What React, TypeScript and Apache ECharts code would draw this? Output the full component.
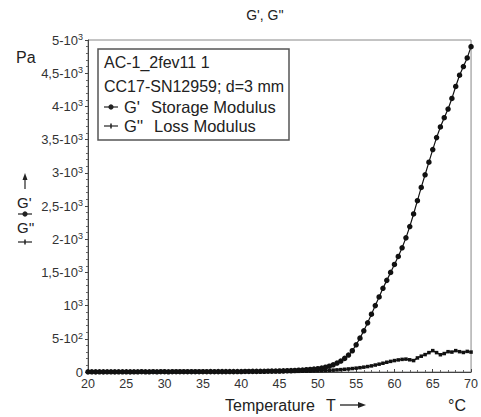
import React, { useEffect, useRef } from "react";
import * as echarts from "echarts";

const temps = [
  20, 20.5, 21, 21.5, 22, 22.5, 23, 23.5, 24, 24.5, 25, 25.5, 26, 26.5, 27, 27.5, 28, 28.5, 29, 29.5,
  30, 30.5, 31, 31.5, 32, 32.5, 33, 33.5, 34, 34.5, 35, 35.5, 36, 36.5, 37, 37.5, 38, 38.5, 39, 39.5,
  40, 40.5, 41, 41.5, 42, 42.5, 43, 43.5, 44, 44.5, 45, 45.5, 46, 46.5, 47, 47.5, 48, 48.5, 49, 49.5,
  50, 50.5, 51, 51.5, 52, 52.5, 53, 53.5, 54, 54.5, 55, 55.5, 56, 56.5, 57, 57.5, 58, 58.5, 59, 59.5,
  60, 60.5, 61, 61.5, 62, 62.5, 63, 63.5, 64, 64.5, 65, 65.5, 66, 66.5, 67, 67.5, 68, 68.5, 69, 69.5,
  70,
];

const storageModulus = [
  2, 3, 2, 3, 2, 3, 3, 2, 3, 3, 3, 2, 3, 3, 4, 3, 3, 4, 3, 4,
  4, 3, 4, 4, 4, 5, 4, 5, 4, 5, 5, 5, 6, 5, 6, 6, 6, 7, 6, 7,
  7, 8, 8, 9, 9, 10, 11, 12, 13, 14, 15, 17, 19, 21, 24, 27, 30, 34, 38, 43,
  50, 60, 72, 88, 108, 135, 165, 205, 255, 320, 410, 510, 620, 740, 870, 1000, 1130, 1260, 1380, 1500,
  1620, 1740, 1870, 2020, 2190, 2380, 2580, 2780, 2970, 3160, 3350, 3530, 3690, 3830, 3960, 4120, 4300, 4470, 4600, 4730,
  4900,
];

const lossModulus = [
  1, 2, 1, 2, 2, 1, 2, 2, 1, 2, 2, 2, 1, 2, 2, 2, 2, 1, 2, 2,
  2, 2, 3, 2, 2, 3, 2, 3, 3, 2, 3, 3, 3, 3, 3, 4, 3, 4, 4, 4,
  4, 4, 5, 4, 5, 5, 5, 6, 6, 6, 7, 7, 8, 8, 9, 10, 11, 12, 13, 15,
  17, 19, 22, 25, 28, 32, 36, 41, 46, 52, 58, 65, 73, 82, 92, 105, 118, 132, 147, 160,
  172, 182, 190, 194, 184, 172, 212, 238, 262, 292, 322, 292, 260, 278, 306, 300, 322, 306, 294, 310,
  300,
];

const yTickValues = [0, 500, 1000, 1500, 2000, 2500, 3000, 3500, 4000, 4500, 5000];
const yTickMantissa = ["0", "5-10", "10", "1,5-10", "2-10", "2,5-10", "3-10", "3,5-10", "4-10", "4,5-10", "5-10"];
const yTickExponent = ["", "2", "3", "3", "3", "3", "3", "3", "3", "3", "3"];

const FONT = "'Liberation Sans', Arial, sans-serif";
const TXT = "#222";

export default function App() {
  const ref = useRef<HTMLDivElement>(null);
  useEffect(() => {
    if (!ref.current) return;
    const chart = echarts.init(ref.current, null, { renderer: "svg" });
    const gData = temps.map((t, i) => [t, storageModulus[i]]);
    const lData = temps.map((t, i) => [t, lossModulus[i]]);
    const markerDot = (x: number, y: number) => [
      { type: "line", shape: { x1: x - 7, y1: y, x2: x + 7, y2: y }, style: { stroke: TXT, lineWidth: 1.2 } },
      { type: "circle", shape: { cx: x, cy: y, r: 2.6 }, style: { fill: TXT } },
    ];
    const markerPlus = (x: number, y: number) => [
      { type: "line", shape: { x1: x - 7, y1: y, x2: x + 7, y2: y }, style: { stroke: TXT, lineWidth: 1.2 } },
      { type: "line", shape: { x1: x, y1: y - 2.5, x2: x, y2: y + 2.5 }, style: { stroke: TXT, lineWidth: 1.5 } },
    ];
    const text = (x: number, y: number, s: string, size: number, align = "left") => ({
      type: "text",
      x,
      y,
      style: { text: s, fontSize: size, fontFamily: FONT, fill: TXT, align, verticalAlign: "middle" },
    });
    chart.setOption({
      animation: false,
      grid: { left: 88, right: 9, top: 40, bottom: 45, show: true, borderColor: "#888", borderWidth: 1 },
      xAxis: {
        type: "value",
        min: 20,
        max: 70,
        interval: 5,
        axisLine: { lineStyle: { color: "#444" } },
        axisTick: { inside: true, length: 3, lineStyle: { color: "#444" } },
        minorTick: { show: true, splitNumber: 5, length: 2, lineStyle: { color: "#666" } },
        splitLine: { show: false },
        axisLabel: { color: "#333", fontSize: 12.5, fontFamily: FONT, margin: 5 },
      },
      yAxis: {
        type: "value",
        min: 0,
        max: 5000,
        interval: 500,
        axisLine: { show: true, lineStyle: { color: "#444" } },
        axisTick: { show: true, length: 3, lineStyle: { color: "#444" } },
        minorTick: { show: true, splitNumber: 5, length: 2, lineStyle: { color: "#666" } },
        splitLine: { show: false },
        axisLabel: {
          margin: 5,
          formatter: (v: number) => {
            const i = yTickValues.indexOf(v);
            if (i < 0) return "";
            const m = yTickMantissa[i];
            const e = yTickExponent[i];
            return e ? `{b|${m}}{s|${e}}` : `{b|${m}}`;
          },
          rich: {
            b: { fontSize: 13, fontFamily: FONT, color: "#333", lineHeight: 15 },
            s: { fontSize: 9, fontFamily: FONT, color: "#333", lineHeight: 9, verticalAlign: "top" },
          },
        },
      },
      series: [
        {
          name: "G'' Loss Modulus",
          type: "line",
          data: lData,
          symbol: "rect",
          symbolSize: 3.5,
          itemStyle: { color: "#111" },
          lineStyle: { color: "#111", width: 1.4 },
          z: 2,
        },
        {
          name: "G' Storage Modulus",
          type: "line",
          data: gData,
          symbol: "circle",
          symbolSize: 5.5,
          itemStyle: { color: "#111" },
          lineStyle: { color: "#111", width: 1.2 },
          z: 3,
        },
      ],
      graphic: [
        text(265, 15, "G', G''", 14, "center"),
        text(16, 57, "Pa", 16),
        text(225, 405, "Temperature", 16),
        text(326, 405, "T", 16),
        { type: "line", shape: { x1: 340, y1: 405, x2: 360, y2: 405 }, style: { stroke: TXT, lineWidth: 1.3 } },
        { type: "polygon", shape: { points: [[366, 405], [358, 402], [358, 408]] }, style: { fill: TXT } },
        text(448, 405, "°C", 16),
        // left vertical label
        { type: "line", shape: { x1: 25, y1: 189, x2: 25, y2: 178 }, style: { stroke: TXT, lineWidth: 1.2 } },
        { type: "polygon", shape: { points: [[25, 173], [22.5, 180], [27.5, 180]] }, style: { fill: TXT } },
        text(17, 202, "G'", 15),
        ...markerDot(25, 214),
        text(17, 227, "G''", 15),
        ...markerPlus(25, 242),
        // legend box
        { type: "rect", shape: { x: 98, y: 49, width: 191, height: 91 }, style: { fill: "#fff", stroke: "#555", lineWidth: 1.5 }, z: 10 },
        { ...text(104, 62, "AC-1_2fev11 1", 16), z: 11 },
        { ...text(104, 86, "CC17-SN12959; d=3 mm", 16), z: 11 },
        ...markerDot(111, 107).map((e) => ({ ...e, z: 11 })),
        { ...text(124, 107, "G'", 16.5), z: 11 },
        { ...text(151, 107, "Storage Modulus", 16.5), z: 11 },
        ...markerPlus(111, 126).map((e) => ({ ...e, z: 11 })),
        { ...text(124, 126, "G''", 16.5), z: 11 },
        { ...text(154, 126, "Loss Modulus", 16.5), z: 11 },
      ],
    });
    return () => chart.dispose();
  }, []);
  return <div ref={ref} style={{ width: 481, height: 417, position: "absolute", left: 0, top: 0 }} />;
}
